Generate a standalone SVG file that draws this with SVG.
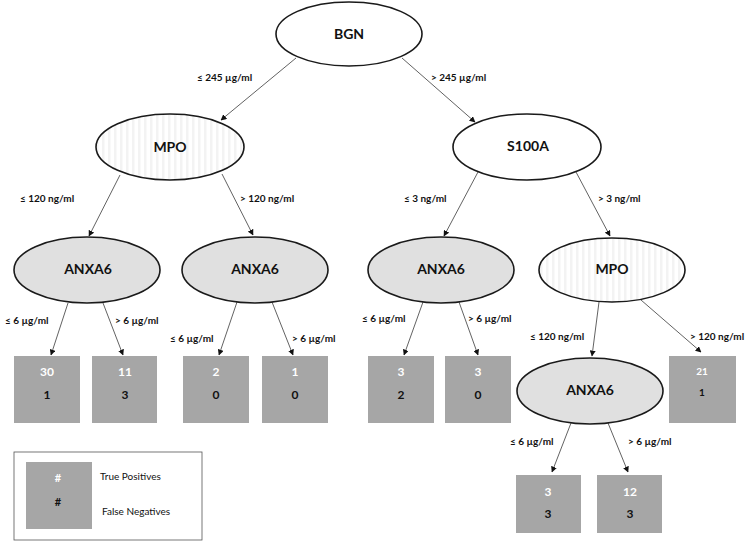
<svg xmlns="http://www.w3.org/2000/svg" width="750" height="546" viewBox="0 0 750 546">
<style>
text{font-family:Lato,"Open Sans","Liberation Sans",sans-serif;font-weight:bold}
.node{stroke:#1a1a1a;stroke-width:1.6}
.plain{fill:#ffffff}
.grey{fill:#e0e0e0}
.striped{fill:url(#stripes)}
.nt{font-size:14px;fill:#111;text-anchor:middle}
.lbl{font-size:10px;fill:#111}
.box{fill:#a6a6a6}
.tp{font-size:12px;fill:#ffffff;text-anchor:middle}
.fn{font-size:12px;fill:#111;text-anchor:middle}
.edge{stroke:#3a3a3a;stroke-width:0.8;fill:none;marker-end:url(#arr)}
</style>
<defs>
<pattern id="stripes" width="6" height="10" patternUnits="userSpaceOnUse">
<rect width="6" height="10" fill="#ffffff"/>
<rect x="0" width="2.5" height="10" fill="#f3f3f3"/>
</pattern>
<marker id="arr" viewBox="0 0 10 10" refX="9" refY="5" markerWidth="6" markerHeight="6" markerUnits="userSpaceOnUse" orient="auto">
<path d="M0,0 L10,5 L0,10 z" fill="#111"/>
</marker>
</defs>
<rect width="750" height="546" fill="#ffffff"/>
<g id="connectors">
<line class="edge" x1="296" y1="58" x2="221" y2="120"/>
<line class="edge" x1="402" y1="58" x2="475" y2="122"/>
<line class="edge" x1="120" y1="175" x2="89" y2="236"/>
<line class="edge" x1="222" y1="174" x2="253" y2="235"/>
<line class="edge" x1="478" y1="172" x2="444" y2="236"/>
<line class="edge" x1="576" y1="172" x2="610" y2="236"/>
<line class="edge" x1="68" y1="303" x2="51" y2="355"/>
<line class="edge" x1="103" y1="303" x2="123" y2="355"/>
<line class="edge" x1="237" y1="302" x2="219" y2="355"/>
<line class="edge" x1="272" y1="302" x2="293" y2="355"/>
<line class="edge" x1="423" y1="302" x2="404" y2="355"/>
<line class="edge" x1="459" y1="302" x2="478" y2="355"/>
<line class="edge" x1="599" y1="302" x2="592" y2="356"/>
<line class="edge" x1="641" y1="300" x2="701" y2="352"/>
<line class="edge" x1="571" y1="423" x2="552" y2="472"/>
<line class="edge" x1="608" y1="423" x2="628" y2="472"/>
<text class="lbl" x="197" y="81">≤ 245 µg/ml</text>
<text class="lbl" x="431" y="81">&gt; 245 µg/ml</text>
<text class="lbl" x="20" y="202">≤ 120 ng/ml</text>
<text class="lbl" x="240" y="202">&gt; 120 ng/ml</text>
<text class="lbl" x="404" y="202">≤ 3 ng/ml</text>
<text class="lbl" x="598" y="202">&gt; 3 ng/ml</text>
<text class="lbl" x="5" y="324">≤ 6 µg/ml</text>
<text class="lbl" x="115" y="324">&gt; 6 µg/ml</text>
<text class="lbl" x="170" y="342">≤ 6 µg/ml</text>
<text class="lbl" x="292" y="342">&gt; 6 µg/ml</text>
<text class="lbl" x="362" y="322">≤ 6 µg/ml</text>
<text class="lbl" x="468" y="322">&gt; 6 µg/ml</text>
<text class="lbl" x="530" y="340">≤ 120 ng/ml</text>
<text class="lbl" x="690" y="340">&gt; 120 ng/ml</text>
<text class="lbl" x="510" y="445">≤ 6 µg/ml</text>
<text class="lbl" x="628" y="445">&gt; 6 µg/ml</text>
</g>
<g id="node-bgn"><ellipse class="node plain" cx="349" cy="34" rx="73" ry="32"/><text class="nt" x="349" y="39">BGN</text></g>
<g id="node-mpo1"><ellipse class="node striped" cx="170" cy="147" rx="74" ry="33"/><text class="nt" x="170" y="152">MPO</text></g>
<g id="node-s100a"><ellipse class="node plain" cx="527" cy="147" rx="74" ry="33"/><text class="nt" x="528" y="151">S100A</text></g>
<g id="node-anxa6-1"><ellipse class="node grey" cx="87" cy="270" rx="73" ry="33"/><text class="nt" x="88" y="274">ANXA6</text></g>
<g id="node-anxa6-2"><ellipse class="node grey" cx="255" cy="270" rx="73" ry="33"/><text class="nt" x="255" y="274">ANXA6</text></g>
<g id="node-anxa6-3"><ellipse class="node grey" cx="441" cy="270" rx="73" ry="33"/><text class="nt" x="441" y="274">ANXA6</text></g>
<g id="node-mpo2"><ellipse class="node striped" cx="612" cy="270" rx="73" ry="32"/><text class="nt" x="612" y="274">MPO</text></g>
<g id="node-anxa6-4"><ellipse class="node grey" cx="590" cy="391" rx="73" ry="33"/><text class="nt" x="590" y="395">ANXA6</text></g>
<g id="leaf-1"><rect class="box" x="14" y="356" width="66" height="67"/><text class="tp" x="47" y="376">30</text><text class="fn" x="47" y="399">1</text></g>
<g id="leaf-2"><rect class="box" x="92" y="356" width="65" height="67"/><text class="tp" x="125" y="376">11</text><text class="fn" x="125" y="399">3</text></g>
<g id="leaf-3"><rect class="box" x="183" y="356" width="66" height="67"/><text class="tp" x="216" y="376">2</text><text class="fn" x="216" y="399">0</text></g>
<g id="leaf-4"><rect class="box" x="262" y="356" width="66" height="67"/><text class="tp" x="295" y="376">1</text><text class="fn" x="295" y="399">0</text></g>
<g id="leaf-5"><rect class="box" x="368" y="356" width="66" height="67"/><text class="tp" x="401" y="376">3</text><text class="fn" x="401" y="399">2</text></g>
<g id="leaf-6"><rect class="box" x="445" y="356" width="66" height="67"/><text class="tp" x="478" y="376">3</text><text class="fn" x="478" y="399">0</text></g>
<g id="leaf-7"><rect class="box" x="669" y="356" width="67" height="67"/><text class="tp" x="702" y="375" style="font-size:10px">21</text><text class="fn" x="702" y="396" style="font-size:10px">1</text></g>
<g id="leaf-8"><rect class="box" x="516" y="475" width="65" height="58"/><text class="tp" x="548" y="496">3</text><text class="fn" x="548" y="518">3</text></g>
<g id="leaf-9"><rect class="box" x="597" y="475" width="65" height="58"/><text class="tp" x="630" y="496">12</text><text class="fn" x="630" y="518">3</text></g>
<g id="legend">
<rect x="14" y="452" width="188" height="88" fill="#ffffff" stroke="#555" stroke-width="0.8"/>
<rect class="box" x="26" y="462" width="66" height="67"/>
<text class="tp" x="58" y="482" style="font-size:11px">#</text>
<text class="fn" x="58" y="506" style="font-size:11px">#</text>
<text class="lbl" x="100" y="480" style="font-weight:normal">True Positives</text>
<text class="lbl" x="102" y="515" style="font-weight:normal">False Negatives</text>
</g>
</svg>
